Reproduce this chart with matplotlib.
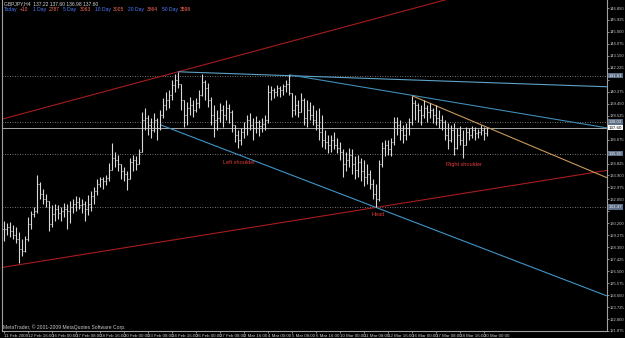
import matplotlib
matplotlib.use('Agg')
import matplotlib.pyplot as plt
import matplotlib.transforms as mtransforms
import numpy as np

plt.rcParams['font.family'] = ['Liberation Sans', 'DejaVu Sans']

# GBPJPY H4 bars (open = previous close)
first_open = 129.80
highs = [130.35, 130.20, 130.28, 130.05, 129.89, 129.51, 128.97, 129.20, 130.66, 131.13,
         131.43, 133.90, 133.36, 132.82, 132.44, 131.28, 131.59, 131.66, 131.59, 131.43,
         131.74, 131.66, 131.90, 132.05, 132.28, 132.20, 132.05, 131.90, 132.36, 132.67,
         132.98, 133.59, 133.82, 133.75, 133.90, 134.90, 136.45, 135.75, 135.52, 134.67,
         134.52, 134.21, 135.29, 135.52, 135.37, 135.91, 138.84, 139.14, 138.60, 138.37,
         138.76, 138.37, 138.99, 139.91, 140.38, 140.53, 141.30, 141.76, 141.92, 140.92,
         139.76, 139.61, 139.99, 139.76, 139.91, 140.53, 141.76, 141.30, 141.07, 139.99,
         139.37, 138.99, 139.53, 139.37, 139.76, 139.45, 138.99, 137.83, 137.45, 137.60,
         138.06, 138.60, 138.76, 138.37, 138.53, 138.22, 138.37, 138.60, 140.92, 140.84,
         140.69, 140.92, 140.84, 140.99, 141.30, 141.69, 140.30, 140.15, 139.76, 140.30,
         139.91, 139.76, 139.61, 139.37, 138.99, 139.14, 138.60, 137.45, 137.06, 137.06,
         137.29, 136.83, 136.52, 135.91, 135.75, 136.06, 135.91, 135.37, 135.52, 135.29,
         135.13, 134.75, 134.36, 133.59, 133.21, 135.13, 136.52, 136.68, 136.68, 136.83,
         138.45, 138.45, 138.22, 137.83, 137.99, 138.37, 140.07, 139.76, 139.53, 139.37,
         139.76, 139.37, 139.53, 139.14, 139.37, 138.99, 138.60, 138.22, 137.99, 137.83,
         137.99, 137.60, 137.76, 137.45, 137.68, 137.60, 137.76, 137.68, 137.52, 137.83,
         137.68, 137.60]
lows = [128.81, 129.27, 129.12, 128.97, 128.66, 127.12, 127.65, 127.96, 128.81, 129.74,
        130.66, 130.97, 132.05, 131.66, 131.43, 129.58, 129.89, 130.35, 130.51, 130.35,
        130.66, 129.74, 130.20, 130.97, 131.13, 131.28, 130.97, 130.35, 130.82, 131.13,
        131.66, 132.36, 132.98, 132.82, 133.13, 133.44, 134.36, 134.52, 134.21, 133.59,
        133.44, 132.74, 133.75, 134.21, 134.36, 134.75, 135.75, 137.45, 137.06, 136.83,
        137.29, 136.68, 137.45, 138.37, 138.99, 139.14, 139.76, 140.38, 140.69, 138.99,
        137.68, 137.83, 138.60, 138.45, 138.84, 139.14, 140.07, 139.76, 139.22, 137.83,
        136.91, 137.45, 138.06, 137.68, 138.22, 137.99, 137.29, 136.52, 136.06, 136.29,
        136.83, 137.06, 137.45, 136.68, 137.22, 136.98, 137.29, 137.45, 137.99, 139.76,
        139.91, 140.07, 139.99, 140.15, 140.38, 140.15, 138.45, 138.60, 138.45, 138.99,
        137.83, 137.68, 138.22, 137.83, 137.45, 136.68, 136.14, 135.91, 135.67, 135.75,
        135.91, 135.67, 135.13, 133.82, 134.21, 134.52, 133.98, 133.59, 133.75, 133.44,
        133.05, 133.21, 132.82, 132.05, 131.43, 131.90, 134.52, 135.37, 135.52, 135.44,
        136.29, 137.06, 136.68, 136.45, 136.68, 137.06, 137.83, 138.22, 138.06, 137.83,
        138.37, 138.06, 138.37, 137.99, 137.83, 137.60, 137.45, 136.68, 135.91, 136.52,
        135.52, 135.91, 136.29, 135.29, 136.29, 136.68, 136.83, 136.68, 136.83, 137.06,
        136.68, 136.98]
closes = [129.74, 129.89, 129.58, 129.27, 128.97, 128.19, 128.04, 128.97, 130.12, 130.89,
          131.13, 133.21, 132.44, 132.05, 131.90, 130.12, 130.89, 131.28, 130.97, 131.13,
          131.28, 131.13, 131.43, 131.66, 131.82, 131.59, 131.66, 131.28, 131.66, 132.28,
          132.67, 133.28, 133.59, 133.44, 133.67, 134.36, 135.29, 135.13, 134.75, 134.21,
          133.98, 133.59, 134.98, 135.13, 134.75, 135.75, 138.22, 138.37, 137.83, 137.45,
          138.22, 137.60, 138.60, 139.37, 139.76, 140.15, 140.92, 141.30, 140.99, 139.76,
          138.60, 139.14, 139.37, 138.99, 139.53, 140.15, 141.15, 140.69, 139.76, 138.60,
          138.22, 138.37, 138.99, 138.60, 139.14, 138.84, 137.83, 137.06, 136.68, 137.29,
          137.60, 138.22, 137.83, 137.60, 138.06, 137.76, 137.91, 138.22, 140.38, 140.53,
          140.38, 140.69, 140.53, 140.84, 140.99, 140.30, 138.99, 139.37, 138.84, 139.76,
          138.37, 138.99, 138.60, 138.22, 137.83, 137.29, 136.68, 136.52, 136.29, 136.68,
          136.29, 136.06, 135.75, 134.75, 135.13, 135.52, 134.75, 134.36, 134.98, 134.21,
          133.75, 133.98, 133.21, 132.44, 132.05, 134.75, 136.06, 136.29, 135.91, 136.52,
          138.06, 137.83, 137.45, 137.06, 137.60, 138.06, 139.53, 139.37, 138.99, 138.60,
          139.14, 138.84, 138.99, 138.60, 138.37, 138.22, 138.06, 137.06, 136.68, 137.45,
          136.06, 137.06, 136.68, 136.29, 137.29, 137.06, 137.45, 137.22, 137.29, 137.45,
          137.22, 137.60]

date_labels = ['11 Feb 2009', '12 Feb 16:00', '16 Feb 00:00', '17 Feb 08:00', '18 Feb 16:00',
               '20 Feb 00:00', '23 Feb 08:00', '24 Feb 16:00', '26 Feb 00:00', '27 Feb 08:00',
               '2 Mar 16:00', '4 Mar 00:00', '5 Mar 08:00', '6 Mar 16:00', '10 Mar 00:00',
               '11 Mar 08:00', '12 Mar 16:00', '16 Mar 00:00', '17 Mar 08:00', '18 Mar 16:00',
               '20 Mar 00:00']
price_ticks = [146.850 - 0.925 * k for k in range(28)]

# drawn objects: (bar, price) anchor pairs
red_upper = [(0, 138.30), (58, 141.92)]
red_lower = [(5, 127.00), (124, 131.43)]
blue_top = [(58, 141.92), (95, 141.62)]
blue_mid = [(95, 141.69), (136, 140.10)]
blue_low = [(52, 137.83), (124, 131.43)]
orange_line = [(136, 140.07), (161, 137.63)]
levels = [141.61, 138.03, 135.60, 131.47]

stat_names = ['Today', '1 Day', '5 Day', '10 Day', '20 Day', '50 Day']
stat_values = ['+10', '2787', '3063', '3005', '3864', '3598']

n = len(closes)
x = np.arange(n)
opens = [first_open] + closes[:-1]
hi = np.maximum.reduce([highs, opens, closes])
lo = np.minimum.reduce([lows, opens, closes])

W, H = 625, 338
fig = plt.figure(figsize=(W / 100, H / 100), dpi=100, facecolor='black')
ax = fig.add_axes([2 / W, 7 / H, 605 / W, 331 / H], facecolor='black')
x0, x1 = -0.67, 201
y0, y1 = 121.95, 147.47
ax.set_xlim(x0, x1)
ax.set_ylim(y0, y1)

# horizontal levels + bid line
for lv in levels:
    ax.axhline(lv, color='#9a9a9a', lw=0.6, ls=(0, (1, 2)))
bid = closes[-1]
ax.axhline(bid, color='#a8a8a8', lw=0.7)


def draw_line(pts, color, extend_left=False):
    (xa, ya), (xb, yb) = pts
    k = (yb - ya) / (xb - xa)
    xs = x0 if extend_left else xa
    ax.plot([xs, x1], [ya + k * (xs - xa), ya + k * (x1 - xa)], color=color, lw=0.8,
            solid_capstyle='butt')


draw_line(red_upper, '#a81c1c', True)
draw_line(red_lower, '#a81c1c', True)
draw_line(blue_top, '#5ba3c8')
draw_line(blue_mid, '#3f8cb8')
draw_line(blue_low, '#3f95c8')
draw_line(orange_line, '#c89a5a')

# OHLC bars
bar_col = '#d8d8d8'
ax.vlines(x, lo, hi, color=bar_col, lw=0.8)
ax.hlines(opens, x - 0.45, x, color=bar_col, lw=0.75)
ax.hlines(closes, x, x + 0.45, color=bar_col, lw=0.75)

# pattern labels
ax.text(78.5, 134.9, 'Left shoulder', color='#e03a3a', fontsize=4, ha='center', va='center')
ax.text(124.7, 130.9, 'Head', color='#e03a3a', fontsize=4, ha='center', va='center')
ax.text(153.3, 134.75, 'Right shoulder', color='#e03a3a', fontsize=4, ha='center', va='center')

# axes look
ax.spines['top'].set_visible(False)
for s in ['left', 'right', 'bottom']:
    ax.spines[s].set_color('#a0a0a0')
    ax.spines[s].set_linewidth(0.8)
ax.yaxis.tick_right()
# tick labels hidden where a price box sits on the axis
shown = [p for p in price_ticks if min(abs(p - v) for v in levels + [closes[-1]]) > 0.45]
ax.set_yticks(price_ticks)
ax.set_yticklabels(['%.3f' % p if p in shown else '' for p in price_ticks])
ax.set_xticks(np.arange(len(date_labels)) * 8)
ax.set_xticklabels(date_labels, ha='left')
ax.tick_params(axis='both', colors='#a0a0a0', labelcolor='#c8c8c8',
               length=2, width=0.6, pad=0.8)
ax.tick_params(axis='y', labelsize=3.0, length=1.5, pad=0.5)
ax.tick_params(axis='x', labelsize=3.2, length=1.5)
for t in ax.get_xticklabels() + ax.get_yticklabels():
    t.set_family(['Liberation Sans Narrow', 'Liberation Sans', 'DejaVu Sans'])

# price boxes on the axis
trans = mtransforms.blended_transform_factory(ax.transAxes, ax.transData)
for lv in levels:
    ax.text(1.003, lv, '%.2f' % lv, transform=trans, fontsize=3.2, color='#e8e8e8',
            va='center', ha='left', clip_on=False,
            bbox=dict(boxstyle='square,pad=0.15', fc='#5d6f86', ec='none'))
ax.text(1.003, bid, '%.2f' % bid, transform=trans, fontsize=3.2, color='black',
        va='center', ha='left', clip_on=False,
        bbox=dict(boxstyle='square,pad=0.15', fc='white', ec='none'))

# header texts
fig.text(4 / W, 1 - 4 / H, 'GBPJPY,H4  %.2f %.2f %.2f %.2f' % (opens[-1], hi[-1], lo[-1], closes[-1]),
         color='#d0d0d0', fontsize=3.6, va='center', ha='left')
name_x = [4, 33, 63, 95, 128, 162]
val_x = [20, 49, 80, 113, 147, 180]
for nm, v, nx, vx in zip(stat_names, stat_values, name_x, val_x):
    fig.text(nx / W, 1 - 9.5 / H, nm, color='#4f7dff', fontsize=3.6, va='center')
    fig.text(vx / W, 1 - 9.5 / H, v, color='#ff6a5a', fontsize=3.6, va='center')

fig.text(3 / W, 1 - 327 / H, 'MetaTrader, \u00a9 2001-2009 MetaQuotes Software Corp.',
         color='#c8c8c8', fontsize=3.6, va='center', ha='left')

fig.savefig('out.png', dpi=100, facecolor='black')
